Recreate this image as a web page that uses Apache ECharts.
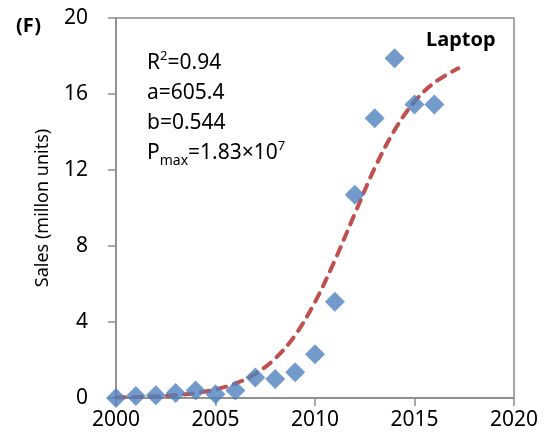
<!DOCTYPE html>
<html>
<head>
<meta charset="utf-8">
<script src="https://cdn.jsdelivr.net/npm/echarts@6/dist/echarts.min.js"></script>
<style>
html,body{margin:0;padding:0;background:#fff;}
#c{width:546px;height:443px;}
</style>
</head>
<body>
<div id="c"></div>
<script>
// Observed laptop sales (million units)
var years = [2000, 2001, 2002, 2003, 2004, 2005, 2006, 2007, 2008, 2009, 2010, 2011, 2012, 2013, 2014, 2015, 2016];
var sales = [0.0, 0.1, 0.14, 0.26, 0.4, 0.2, 0.4, 1.08, 1.0, 1.35, 2.3, 5.07, 10.7, 14.73, 17.88, 15.45, 15.45];
// Fitted curve
var fitYears = [2000, 2001, 2002, 2003, 2004, 2005, 2006, 2007, 2008, 2009, 2010, 2011, 2012, 2013, 2014, 2015, 2016, 2017.2];
var fitVals = [0.03, 0.05, 0.09, 0.15, 0.26, 0.45, 0.76, 1.27, 2.08, 3.3, 5.05, 7.25, 9.7, 12.1, 14.1, 15.6, 16.6, 17.35];
var xTicks = {min: 2000, max: 2020, interval: 5};
var yTicks = {min: 0, max: 20, interval: 4};

var FONT = 'Noto Sans';
var axisColor = '#8c8c8c';

function pairs(xs, ys) { return xs.map(function (x, i) { return [x, ys[i]]; }); }

var chart = echarts.init(document.getElementById('c'), null, {renderer: 'canvas'});
chart.setOption({
  animation: false,
  textStyle: {fontFamily: FONT},
  title: [
    {text: '(F)', left: 11, top: 11, textStyle: {fontFamily: FONT, fontWeight: 'bold', fontSize: 20, color: '#000'}},
    {text: 'Laptop', left: 421, top: 25, textStyle: {fontFamily: FONT, fontWeight: 'bold', fontSize: 20, color: '#000'}},
    {
      text: '{n|R}{sup|2}{n|=0.94}\n{n|a=605.4}\n{n|b=0.544}\n{n|P}{sub|max}{n|=1.83\u00d710}{sup|7}',
      left: 142, top: 43,
      textStyle: {
        fontFamily: FONT, fontWeight: 'normal', fontSize: 21, color: '#000', lineHeight: 30,
        rich: {
          n: {fontFamily: FONT, fontWeight: 'normal', fontSize: 21, color: '#000', lineHeight: 30},
          sup: {fontFamily: FONT, fontWeight: 'normal', fontSize: 13, color: '#000', lineHeight: 13, verticalAlign: 'top', padding: [2, 0, 0, 0]},
          sub: {fontFamily: FONT, fontWeight: 'normal', fontSize: 14, color: '#000', lineHeight: 14, verticalAlign: 'bottom', padding: [0, 0, 0, 0]}
        }
      }
    }
  ],
  grid: {left: 116, top: 18, right: 32, bottom: 45, show: true, borderColor: axisColor, borderWidth: 1.5, backgroundColor: 'transparent'},
  xAxis: {
    type: 'value', min: xTicks.min, max: xTicks.max, interval: xTicks.interval,
    axisLine: {show: true, onZero: false, lineStyle: {color: axisColor, width: 1.5}},
    axisTick: {show: true, inside: false, length: 8, lineStyle: {color: axisColor, width: 1.5}},
    axisLabel: {fontFamily: FONT, fontSize: 21, color: '#000', margin: 12, formatter: function (v) { return String(v); }},
    splitLine: {show: false}
  },
  yAxis: {
    type: 'value', min: yTicks.min, max: yTicks.max, interval: yTicks.interval,
    name: 'Sales (millon units)', nameLocation: 'middle', nameGap: 64, nameRotate: 90,
    nameTextStyle: {fontFamily: FONT, fontSize: 18, color: '#000'},
    axisLine: {show: true, onZero: false, lineStyle: {color: axisColor, width: 1.5}},
    axisTick: {show: true, inside: false, length: 8, lineStyle: {color: axisColor, width: 1.5}},
    axisLabel: {fontFamily: FONT, fontSize: 21, color: '#000', margin: 28},
    splitLine: {show: false}
  },
  series: [
    {
      type: 'line', data: pairs(fitYears, fitVals), smooth: 0.35, showSymbol: false, z: 2,
      lineStyle: {color: '#C0504D', width: 4, type: [9, 8], cap: 'round'}
    },
    {
      type: 'scatter', data: pairs(years, sales), symbol: 'diamond', symbolSize: 20, z: 3,
      itemStyle: {color: '#4F81BD'}
    }
  ]
});
</script>
</body>
</html>
